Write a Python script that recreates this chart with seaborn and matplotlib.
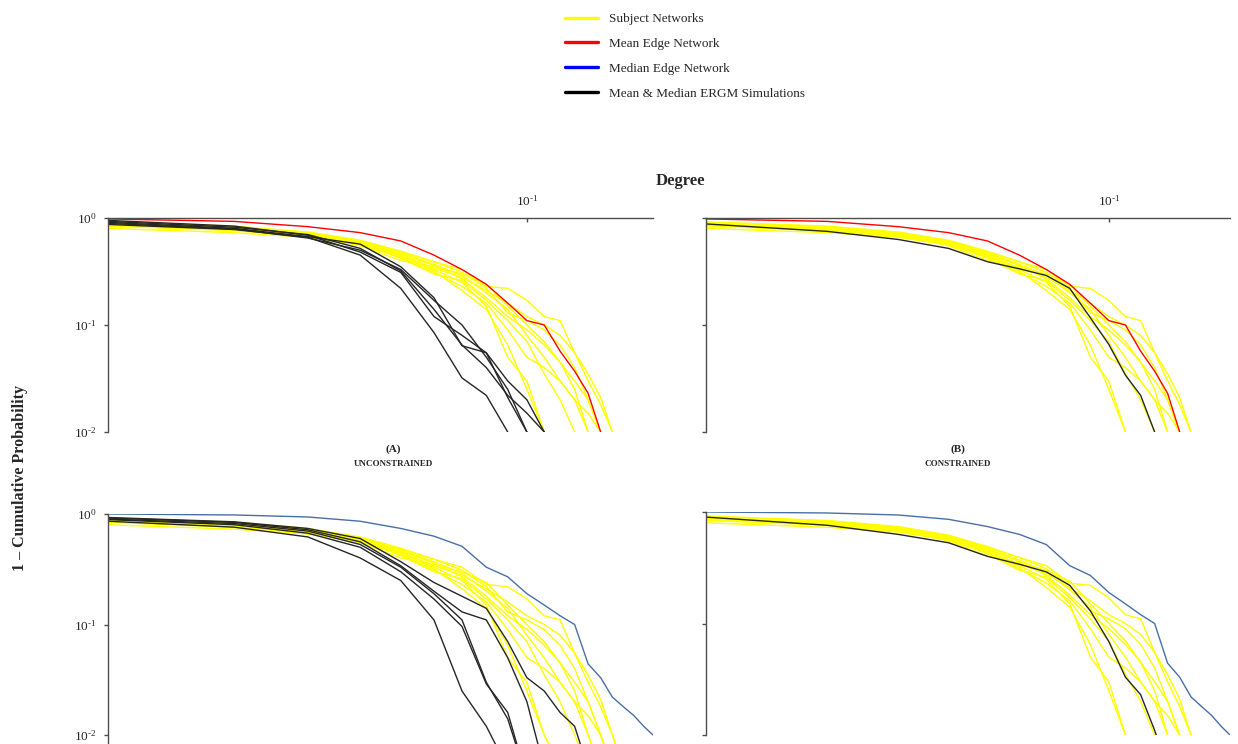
import numpy as np
import pandas as pd
import matplotlib
matplotlib.use("Agg")
import matplotlib.pyplot as plt
from matplotlib.lines import Line2D
import seaborn as sns

# Normalised degree (degree / number of actors)
DEGREE = [0.01, 0.02, 0.03, 0.04, 0.05, 0.06, 0.07, 0.08, 0.09, 0.10,
          0.11, 0.12, 0.13, 0.14, 0.15, 0.16, 0.17, 0.18, 0.19, 0.20]

# 1 - cumulative probability for each observed subject network
SUBJECT_NETWORKS = [
    [0.80, 0.73, 0.66, 0.56, 0.44, 0.33, 0.25, 0.15, 0.05, 0.03, 0.01, 0.005],
    [0.84, 0.76, 0.68, 0.57, 0.45, 0.32, 0.21, 0.14, 0.065, 0.025, 0.01, 0.005],
    [0.87, 0.79, 0.70, 0.58, 0.42, 0.30, 0.26, 0.17, 0.11, 0.07, 0.035, 0.02, 0.01, 0.005],
    [0.90, 0.82, 0.72, 0.60, 0.47, 0.37, 0.29, 0.20, 0.14, 0.08, 0.05, 0.03, 0.02, 0.01, 0.005],
    [0.86, 0.78, 0.69, 0.55, 0.40, 0.35, 0.30, 0.24, 0.15, 0.10, 0.07, 0.045, 0.025, 0.01, 0.005],
    [0.91, 0.83, 0.73, 0.61, 0.48, 0.39, 0.31, 0.22, 0.13, 0.11, 0.09, 0.065, 0.04, 0.02, 0.01, 0.005],
    [0.88, 0.80, 0.71, 0.59, 0.46, 0.36, 0.27, 0.18, 0.12, 0.09, 0.065, 0.045, 0.03, 0.02, 0.01, 0.005],
    [0.92, 0.84, 0.74, 0.62, 0.49, 0.39, 0.33, 0.23, 0.22, 0.17, 0.12, 0.11, 0.055, 0.035, 0.021, 0.01, 0.005],
    [0.89, 0.81, 0.72, 0.58, 0.45, 0.34, 0.28, 0.21, 0.16, 0.12, 0.10, 0.08, 0.055, 0.03, 0.018, 0.01, 0.005],
    [0.85, 0.77, 0.67, 0.56, 0.43, 0.31, 0.23, 0.16, 0.09, 0.05, 0.04, 0.03, 0.02, 0.015, 0.01, 0.005],
]

MEAN_EDGE_NETWORK = [0.98, 0.93, 0.83, 0.73, 0.61, 0.45, 0.33, 0.24, 0.16, 0.11,
                     0.10, 0.057, 0.037, 0.023, 0.01, 0.005]

MEDIAN_EDGE_NETWORK = [1.0, 0.98, 0.94, 0.86, 0.74, 0.63, 0.51, 0.33, 0.27, 0.19,
                       0.15, 0.12, 0.10, 0.044, 0.033, 0.022, 0.018, 0.015, 0.012, 0.01]

# ERGM simulations fitted to the mean edge network, unconstrained
ERGM_MEAN_UNCONSTRAINED = [
    [0.87, 0.78, 0.66, 0.45, 0.22, 0.085, 0.032, 0.022, 0.01, 0.005],
    [0.91, 0.80, 0.67, 0.57, 0.35, 0.18, 0.064, 0.055, 0.021, 0.01, 0.005],
    [0.89, 0.79, 0.65, 0.50, 0.33, 0.17, 0.10, 0.05, 0.025, 0.01, 0.005],
    [0.93, 0.82, 0.70, 0.52, 0.32, 0.14, 0.065, 0.04, 0.022, 0.015, 0.01, 0.005],
    [0.95, 0.84, 0.69, 0.48, 0.31, 0.12, 0.08, 0.055, 0.03, 0.02, 0.01, 0.005],
]

# ERGM simulations fitted to the median edge network, unconstrained
ERGM_MEDIAN_UNCONSTRAINED = [
    [0.86, 0.76, 0.62, 0.40, 0.25, 0.11, 0.025, 0.012, 0.005],
    [0.89, 0.80, 0.67, 0.50, 0.30, 0.17, 0.096, 0.029, 0.016, 0.004],
    [0.92, 0.84, 0.72, 0.56, 0.34, 0.20, 0.13, 0.11, 0.05, 0.02, 0.005],
    [0.90, 0.82, 0.70, 0.53, 0.33, 0.19, 0.11, 0.03, 0.014, 0.004],
    [0.93, 0.85, 0.74, 0.60, 0.37, 0.24, 0.18, 0.14, 0.07, 0.033, 0.025, 0.016, 0.012, 0.005],
]

# Constrained ERGM simulations
ERGM_MEAN_CONSTRAINED = [0.88, 0.75, 0.63, 0.52, 0.39, 0.335, 0.29, 0.22, 0.117,
                         0.066, 0.034, 0.022, 0.01, 0.005]
ERGM_MEDIAN_CONSTRAINED = [0.90, 0.76, 0.63, 0.53, 0.40, 0.34, 0.29, 0.22, 0.13,
                           0.069, 0.033, 0.023, 0.011, 0.005]

LEGEND_LABELS = ["Subject Networks", "Mean Edge Network",
                 "Median Edge Network", "Mean & Median ERGM Simulations"]
PANEL_LABELS = [("(A)", "UNCONSTRAINED"), ("(B)", "CONSTRAINED")]
Y_TICKS = [0.01, 0.1, 1.0]
Y_TICK_LABELS = ["$\\mathregular{10^{\u2010" + "2}}$", "$\\mathregular{10^{\u2010" + "1}}$",
                 "$\\mathregular{10^{0}}$"]
X_TICKS = [0.1]
X_TICK_LABELS = ["$\\mathregular{10^{\u2010" + "1}}$"]

YELLOW = "#FFFF00"
RED = "#FF0000"
STEEL = "#4A6FA5"
DARK = "#262626"
SPINE = "#4D4D4D"

sns.set_theme(style="white")
plt.rcParams["font.family"] = ["Liberation Serif", "DejaVu Serif"]
plt.rcParams["mathtext.fontset"] = "custom"
plt.rcParams["mathtext.rm"] = "Liberation Serif"
plt.rcParams["mathtext.it"] = "Liberation Serif:italic"
plt.rcParams["mathtext.bf"] = "Liberation Serif:bold"

W, H = 1238, 744
fig = plt.figure(figsize=(W / 100, H / 100), dpi=100)


def box(left, top, right, bottom):
    return [left / W, 1 - bottom / H, (right - left) / W, (bottom - top) / H]


# Upper row: full decade range 1e-2..1e0.  Lower row: the left panel runs
# on past 1e-2 down to the figure edge, the right one stops at 1e-2.
ax_a = fig.add_axes(box(108, 218, 653, 432))
ax_b = fig.add_axes(box(706, 218, 1230, 432))
LOWER_DECADE = (735 - 514) / 2.0
ax_c = fig.add_axes(box(108, 514, 653, 745))
ax_d = fig.add_axes(box(706, 512, 1230, 735))


def series_frame(values):
    return pd.DataFrame({"degree": DEGREE[:len(values)], "prob": values})


def draw(ax, values, color, lw=1.0):
    sns.lineplot(data=series_frame(values), x="degree", y="prob", ax=ax,
                 color=color, linewidth=lw, estimator=None, sort=False,
                 legend=False)


def style_axis(ax, top_axis, ylabels, ybottom=0.01):
    ax.set_xscale("log")
    ax.set_yscale("log")
    ax.set_xlim(0.01, 0.2)
    ax.set_ylim(ybottom, 1.0)
    ax.set_xlabel("")
    ax.set_ylabel("")
    for side in ("right", "bottom"):
        ax.spines[side].set_visible(False)
    ax.spines["left"].set_color(SPINE)
    ax.spines["left"].set_linewidth(1.0)
    ax.spines["top"].set_visible(top_axis)
    ax.spines["top"].set_color(SPINE)
    ax.spines["top"].set_linewidth(1.0)
    ax.minorticks_off()
    ax.set_yticks(Y_TICKS)
    ax.set_yticklabels(Y_TICK_LABELS if ylabels else [])
    ax.tick_params(axis="y", which="major", left=True, direction="out",
                   length=3, width=1.0, color=SPINE, labelsize=9.5, pad=5)
    ax.xaxis.set_ticks_position("top")
    if top_axis:
        ax.set_xticks(X_TICKS)
        ax.set_xticklabels(X_TICK_LABELS)
        ax.tick_params(axis="x", which="major", top=True, bottom=False,
                       labeltop=True, labelbottom=False, direction="in",
                       length=3, width=1.0, color=SPINE, labelsize=9.5, pad=7)
    else:
        ax.set_xticks([])
    ax.grid(False)
    ax.set_facecolor("none")


panels = [
    (ax_a, MEAN_EDGE_NETWORK, RED, ERGM_MEAN_UNCONSTRAINED),
    (ax_b, MEAN_EDGE_NETWORK, RED, [ERGM_MEAN_CONSTRAINED]),
    (ax_c, MEDIAN_EDGE_NETWORK, STEEL, ERGM_MEDIAN_UNCONSTRAINED),
    (ax_d, MEDIAN_EDGE_NETWORK, STEEL, [ERGM_MEDIAN_CONSTRAINED]),
]

for ax, edge_net, edge_color, simulations in panels:
    for net in SUBJECT_NETWORKS:
        draw(ax, net, YELLOW)
    for sim in simulations:
        draw(ax, sim, DARK)
    draw(ax, edge_net, edge_color)

style_axis(ax_a, True, True)
style_axis(ax_b, True, False)
style_axis(ax_c, False, True, ybottom=10 ** (-2 - (745 - 735) / LOWER_DECADE))
style_axis(ax_d, False, False)

# Shared annotations
fig.text(680 / W, 1 - 181 / H, "Degree", ha="center", va="center",
         fontsize=12, fontweight="bold")
fig.text(20 / W, 1 - 478 / H, "1 \u2013 Cumulative Probability", ha="center",
         va="center", rotation=90, fontsize=11.5, fontweight="bold")
for (tag, name), cx in zip(PANEL_LABELS, (393, 958)):
    fig.text(cx / W, 1 - 449 / H, tag, ha="center", va="center",
             fontsize=8, fontweight="bold")
    fig.text(cx / W, 1 - 464 / H, name, ha="center", va="center",
             fontsize=6.5, fontweight="bold")

handles = [Line2D([], [], color=c, lw=2.4)
           for c in (YELLOW, RED, "#0000FF", "#000000")]
fig.legend(handles, LEGEND_LABELS, loc="upper left",
           bbox_to_anchor=(565 / W, 1 - 13 / H), frameon=False, fontsize=9.5,
           handlelength=2.5, handletextpad=0.8, labelspacing=0.95,
           borderpad=0, borderaxespad=0)

fig.savefig("out.png", dpi=100, facecolor="white")
